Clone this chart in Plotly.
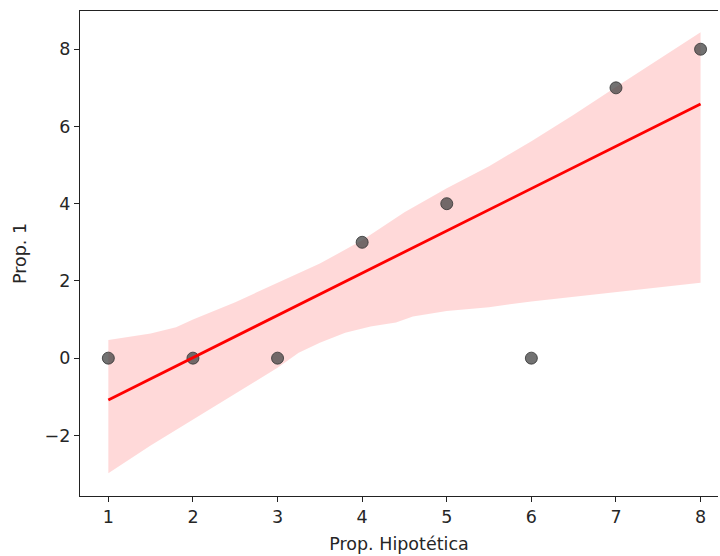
import numpy as np
import plotly.graph_objects as go

# Data
x_vals = [1, 2, 3, 4, 5, 6, 7, 8]
y_vals = [0, 0, 0, 3, 4, 0, 7, 8]

# Confidence band
band_upper_x = [1, 1.5, 1.8, 2, 2.5, 3, 3.5, 4, 4.5, 5, 5.5, 6, 6.5, 7, 7.5, 8]
band_upper_y = [0.47, 0.64, 0.8, 1.0, 1.45, 1.95, 2.45, 3.05, 3.78, 4.4, 4.97, 5.62, 6.3, 7.02, 7.72, 8.44]
band_lower_x = [1, 1.5, 2, 2.5, 3, 3.25, 3.5, 3.8, 4.1, 4.4, 4.6, 5, 5.5, 6, 7, 8]
band_lower_y = [-2.98, -2.26, -1.58, -0.92, -0.25, 0.14, 0.4, 0.66, 0.82, 0.92, 1.08, 1.22, 1.32, 1.47, 1.71, 1.95]

x_ticks = [1, 2, 3, 4, 5, 6, 7, 8]
y_ticks = [-2, 0, 2, 4, 6, 8]

slope, intercept = np.polyfit(x_vals, y_vals, 1)
line_x = [min(x_vals), max(x_vals)]
line_y = [slope * v + intercept for v in line_x]

fig = go.Figure()
fig.add_trace(go.Scatter(
    x=band_upper_x + band_lower_x[::-1],
    y=band_upper_y + band_lower_y[::-1],
    fill="toself", fillcolor="rgba(255,0,0,0.15)",
    line=dict(width=0), mode="lines", hoverinfo="skip", showlegend=False))
fig.add_trace(go.Scatter(
    x=x_vals, y=y_vals, mode="markers",
    marker=dict(size=12, color="rgba(60,60,60,0.72)",
                line=dict(width=1, color="rgba(50,50,50,0.8)")),
    showlegend=False))
fig.add_trace(go.Scatter(
    x=line_x, y=line_y, mode="lines",
    line=dict(color="#ff0000", width=2.8), showlegend=False))

font = dict(family="DejaVu Sans", size=17.5, color="#262626")
fig.update_layout(
    width=720, height=556,
    margin=dict(l=80, r=2, t=11, b=60),
    plot_bgcolor="white", paper_bgcolor="white",
    font=font,
    xaxis=dict(range=[0.665, 8.206], tickvals=x_ticks, showgrid=False, zeroline=False,
               showline=True, linecolor="#222", linewidth=1.2, mirror=True,
               ticks="outside", ticklen=5, tickcolor="#222",
               title=dict(text="Prop. Hipotética", font=font, standoff=11)),
    yaxis=dict(range=[-3.57, 8.99], tickvals=y_ticks, showgrid=False, zeroline=False,
               showline=True, linecolor="#222", linewidth=1.2,
               ticks="outside", ticklen=5, tickcolor="#222",
               title=dict(text="Prop. 1", font=font, standoff=13)),
)
fig.write_html("out.html", config={"displayModeBar": False},
               post_script="document.body.style.margin='0px';document.body.style.overflow='hidden';")
